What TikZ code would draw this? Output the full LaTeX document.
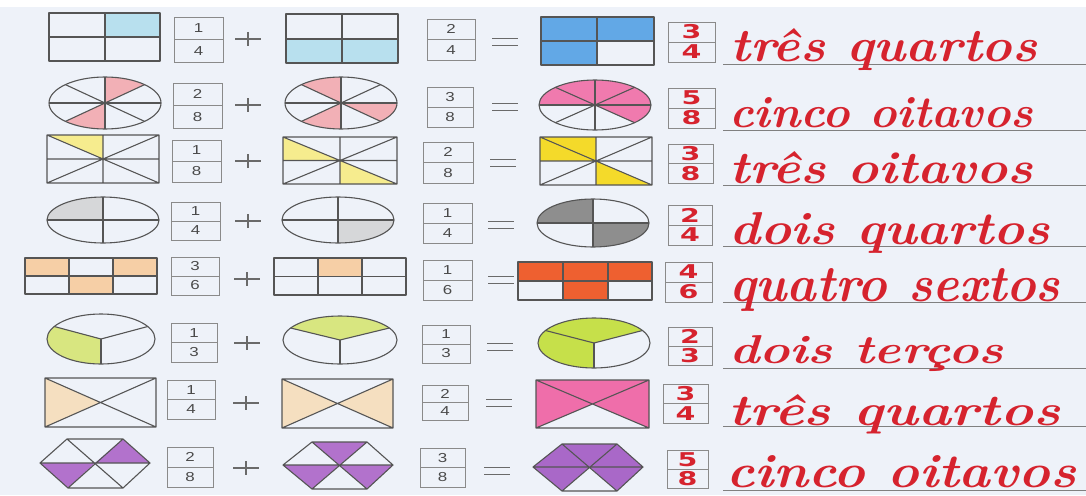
\documentclass[tikz,border=0pt]{standalone}
\usepackage{fontspec}
\usepackage{graphicx}
\newfontfamily\digfont{Liberation Sans}
\newfontfamily\rdigfont{DejaVu Sans}
\definecolor{bgc}{HTML}{EEF2F9}
\definecolor{lc}{HTML}{555555}
\definecolor{bc}{HTML}{8A8A8A}
\definecolor{oc}{HTML}{6A6A6A}
\definecolor{dc}{HTML}{4A4A4A}
\definecolor{redc}{HTML}{D6232E}
\definecolor{ulc}{HTML}{808080}
\definecolor{lblue}{HTML}{B8E0EE}
\definecolor{cblue}{HTML}{62A8E6}
\definecolor{lpink}{HTML}{F2B0B6}
\definecolor{hpink}{HTML}{F07AAE}
\definecolor{lyel}{HTML}{F6EC8E}
\definecolor{byel}{HTML}{F4DA2A}
\definecolor{lgray}{HTML}{D6D7D9}
\definecolor{dgray}{HTML}{8E8E8E}
\definecolor{peach}{HTML}{F6CFA6}
\definecolor{ored}{HTML}{EE6030}
\definecolor{lgreen}{HTML}{D8E680}
\definecolor{bgreen}{HTML}{C6E04A}
\definecolor{lpeach}{HTML}{F5DFC0}
\definecolor{mpink}{HTML}{EF6EAA}
\definecolor{lpurp}{HTML}{B272CC}
\definecolor{mpurp}{HTML}{A968C8}
\tikzset{
  shp/.style={draw=lc, line width=1.1pt, line join=round},
  boxline/.style={draw=bc, line width=0.9pt},
  op/.style={draw=oc, line width=1.5pt},
  pd/.style={font=\digfont\fontsize{13}{13}\selectfont, text=dc, inner sep=0pt, xscale=1.3},
  rd/.style={font=\rdigfont\bfseries\fontsize{19}{19}\selectfont, text=redc, inner sep=0pt, xscale=1.5},
  hw/.style={text=redc, font=\bfseries\itshape, inner sep=0pt, anchor=base west},
  ul/.style={draw=ulc, line width=0.8pt}
}
% fraction box: name, x1, y1, x2, y2, num, den, style
\newcommand\fbx[8]{%
  \draw[boxline] (#2,#3) rectangle (#4,#5);
  \draw[boxline] (#2,{(#3+#5)/2}) -- (#4,{(#3+#5)/2});
  \node[#8] (#1n) at ({(#2+#4)/2},{#3+(#5-#3)/4}) {#6};
  \node[#8] (#1d) at ({(#2+#4)/2},{#3+3*(#5-#3)/4}) {#7};
}
\newcommand\plusop[3]{\coordinate (#1) at (#2,#3);
  \draw[op,shift={(#2,#3)}] (-13,0) -- (13,0) (0,-7) -- (0,7);}
\newcommand\eqop[3]{\coordinate (#1) at (#2,#3);
  \draw[op,shift={(#2,#3)}] (-13,-3.4) -- (13,-3.4) (-13,3.4) -- (13,3.4);}
% ellipse sector: colour, cx, cy, rx, ry, a, b (image angles, ccw)
\newcommand\esect[7]{%
  \fill[#1] (#2,#3) -- ++({#4*cos(-(#6))},{#5*sin(-(#6))})
    arc[start angle={-(#6)}, end angle={-(#7)}, x radius=#4, y radius=#5] -- cycle;}
\newcommand\erad[5]{% cx, cy, rx, ry, image angle
  \draw[shp] (#1,#2) -- ++({#3*cos(-(#5))},{#4*sin(-(#5))});}
\begin{document}
\begin{tikzpicture}[x=1pt,y=-1pt]
\useasboundingbox (0,0) rectangle (1086,495);
\fill[white] (0,0) rectangle (1086,495);
\fill[bgc] (0,7) rectangle (1086,495);

% underlines
\draw[ul] (723,64) -- (1086,64);
\draw[ul] (723,130) -- (1086,130);
\draw[ul] (723,185) -- (1086,185);
\draw[ul] (723,246) -- (1086,246);
\draw[ul] (723,302) -- (1086,302);
\draw[ul] (723,368) -- (1086,368);
\draw[ul] (723,426) -- (1086,426);
\draw[ul] (723,490) -- (1086,490);

%% ROW 1
\fill[lblue] (105,13) rectangle (160,37);
\draw[shp] (49,13) rectangle (160,61) (105,13) -- (105,61) (49,37) -- (160,37);
\fbx{b11}{174}{17}{223}{62}{1}{4}{pd}
\plusop{p1}{248}{39}
\fill[lblue] (286,39) rectangle (398,63);
\draw[shp] (286,14) rectangle (398,63) (342,14) -- (342,63) (286,39) -- (398,39);
\fbx{b12}{427}{19}{475}{60}{2}{4}{pd}
\eqop{e1}{505}{42}
\fill[cblue] (541,17) rectangle (654,41) (541,41) rectangle (597,65);
\draw[shp] (541,17) rectangle (654,65) (597,17) -- (597,65) (541,41) -- (654,41);
\fbx{b13}{668}{22}{715}{62}{3}{4}{rd}
\node[hw] (t1) at (730,62) {\resizebox{307pt}{33pt}{três quartos}};

%% ROW 2
\esect{lpink}{105}{103}{56}{26}{45}{90}
\esect{lpink}{105}{103}{56}{26}{225}{270}
\foreach \a in {0,45,...,315} {\erad{105}{103}{56}{26}{\a}}
\draw[shp] (105,103) ellipse [x radius=56, y radius=26];
\fbx{b21}{173}{83}{222}{128}{2}{8}{pd}
\plusop{p2}{248}{105}
\esect{lpink}{341}{103}{56}{26}{90}{135}
\esect{lpink}{341}{103}{56}{26}{225}{270}
\esect{lpink}{341}{103}{56}{26}{315}{360}
\foreach \a in {0,45,...,315} {\erad{341}{103}{56}{26}{\a}}
\draw[shp] (341,103) ellipse [x radius=56, y radius=26];
\fbx{b22}{427}{87}{473}{127}{3}{8}{pd}
\eqop{e2}{505}{107}
\esect{hpink}{595}{105}{56}{25}{0}{180}
\esect{hpink}{595}{105}{56}{25}{315}{360}
\foreach \a in {0,45,...,315} {\erad{595}{105}{56}{25}{\a}}
\draw[shp] (595,105) ellipse [x radius=56, y radius=25];
\fbx{b23}{668}{88}{715}{128}{5}{8}{rd}
\node[hw] (t2) at (729,127) {\resizebox{304pt}{30pt}{cinco oitavos}};

%% ROW 3
\fill[lyel] (47,135) -- (103,135) -- (103,159) -- cycle;
\draw[shp] (47,135) rectangle (159,183) (103,135) -- (103,183) (47,159) -- (159,159)
  (47,135) -- (159,183) (47,183) -- (159,135);
\fbx{b31}{172}{140}{221}{182}{1}{8}{pd}
\plusop{p3}{248}{161}
\fill[lyel] (283,137) -- (283,160.5) -- (340,160.5) -- cycle;
\fill[lyel] (340,160.5) -- (340,184) -- (397,184) -- cycle;
\draw[shp] (283,137) rectangle (397,184) (340,137) -- (340,184) (283,160.5) -- (397,160.5)
  (283,137) -- (397,184) (283,184) -- (397,137);
\fbx{b32}{423}{142}{473}{183}{2}{8}{pd}
\eqop{e3}{503}{163}
\fill[byel] (540,137) rectangle (596,161);
\fill[byel] (596,161) -- (596,185) -- (652,185) -- cycle;
\draw[shp] (540,137) rectangle (652,185) (596,137) -- (596,185) (540,161) -- (652,161)
  (540,137) -- (652,185) (540,185) -- (652,137);
\fbx{b33}{668}{144}{713}{183}{3}{8}{rd}
\node[hw] (t3) at (729,183) {\resizebox{304pt}{32pt}{três oitavos}};

%% ROW 4
\esect{lgray}{103}{220}{56}{23}{90}{180}
\foreach \a in {0,90,180,270} {\erad{103}{220}{56}{23}{\a}}
\draw[shp] (103,220) ellipse [x radius=56, y radius=23];
\fbx{b41}{171}{202}{220}{240}{1}{4}{pd}
\plusop{p4}{248}{221}
\esect{lgray}{338}{220}{56}{23}{270}{360}
\foreach \a in {0,90,180,270} {\erad{338}{220}{56}{23}{\a}}
\draw[shp] (338,220) ellipse [x radius=56, y radius=23];
\fbx{b42}{423}{203}{472}{243}{1}{4}{pd}
\eqop{e4}{501}{225}
\esect{dgray}{593}{223}{56}{24}{90}{180}
\esect{dgray}{593}{223}{56}{24}{270}{360}
\foreach \a in {0,90,180,270} {\erad{593}{223}{56}{24}{\a}}
\draw[shp] (593,223) ellipse [x radius=56, y radius=24];
\fbx{b43}{668}{205}{712}{245}{2}{4}{rd}
\node[hw] (t4) at (729,244) {\resizebox{321pt}{32pt}{dois quartos}};

%% ROW 5
\fill[peach] (25,258) rectangle (69,276) (113,258) rectangle (157,276) (69,276) rectangle (113,294);
\draw[shp] (25,258) rectangle (157,294) (69,258) -- (69,294) (113,258) -- (113,294) (25,276) -- (157,276);
\fbx{b51}{171}{257}{219}{295}{3}{6}{pd}
\plusop{p5}{247}{279}
\fill[peach] (318,258) rectangle (362,276.5);
\draw[shp] (274,258) rectangle (406,295) (318,258) -- (318,295) (362,258) -- (362,295) (274,276.5) -- (406,276.5);
\fbx{b52}{423}{260}{472}{300}{1}{6}{pd}
\eqop{e5}{501}{280}
\fill[ored] (518,262) rectangle (652,281) (563,281) rectangle (608,300);
\draw[shp] (518,262) rectangle (652,300) (563,262) -- (563,300) (608,262) -- (608,300) (518,281) -- (652,281);
\fbx{b53}{665}{262}{712}{302}{4}{6}{rd}
\node[hw] (t5) at (729,301) {\resizebox{331pt}{33pt}{quatro sextos}};

%% ROW 6
\esect{lgreen}{101}{339}{54}{25}{150}{270}
\foreach \a in {30,150,270} {\erad{101}{339}{54}{25}{\a}}
\draw[shp] (101,339) ellipse [x radius=54, y radius=25];
\fbx{b61}{171}{323}{217}{362}{1}{3}{pd}
\plusop{p6}{247}{343}
\esect{lgreen}{340}{340}{57}{24}{30}{150}
\foreach \a in {30,150,270} {\erad{340}{340}{57}{24}{\a}}
\draw[shp] (340,340) ellipse [x radius=57, y radius=24];
\fbx{b62}{422}{325}{470}{363}{1}{3}{pd}
\eqop{e6}{500}{347}
\esect{bgreen}{594}{343}{56}{25}{30}{270}
\foreach \a in {30,150,270} {\erad{594}{343}{56}{25}{\a}}
\draw[shp] (594,343) ellipse [x radius=56, y radius=25];
\fbx{b63}{668}{327}{712}{365}{2}{3}{rd}
\node[hw] (t6) at (729,363) {\resizebox{274pt}{28pt}{dois terços}};

%% ROW 7
\fill[lpeach] (45,378) -- (45,427) -- (100.5,402.5) -- cycle;
\draw[shp] (45,378) rectangle (156,427) (45,378) -- (156,427) (45,427) -- (156,378);
\fbx{b71}{167}{380}{215}{419}{1}{4}{pd}
\plusop{p7}{246}{403}
\fill[lpeach] (282,379) -- (282,428) -- (337.5,403.5) -- cycle;
\fill[lpeach] (393,379) -- (393,428) -- (337.5,403.5) -- cycle;
\draw[shp] (282,379) rectangle (393,428) (282,379) -- (393,428) (282,428) -- (393,379);
\fbx{b72}{422}{385}{468}{420}{2}{4}{pd}
\eqop{e7}{499}{403}
\fill[mpink] (536,380) -- (649,380) -- (649,428) -- (592.5,404) -- (536,428) -- cycle;
\draw[shp] (536,380) rectangle (649,428) (536,380) -- (649,428) (536,428) -- (649,380);
\fbx{b73}{663}{384}{708}{423}{3}{4}{rd}
\node[hw] (t7) at (728,425) {\resizebox{332pt}{31pt}{três quartos}};

%% ROW 8
\fill[lpurp] (40,463) -- (95,463) -- (68,488) -- cycle;
\fill[lpurp] (95,463) -- (123,439) -- (150,463) -- cycle;
\draw[shp] (40,463) -- (67,439) -- (123,439) -- (150,463) -- (123,488) -- (68,488) -- cycle
  (40,463) -- (150,463) (67,439) -- (123,488) (123,439) -- (68,488);
\fbx{b81}{167}{447}{213}{487}{2}{8}{pd}
\plusop{p8}{246}{468}
\fill[lpurp] (312,442) -- (367,442) -- (339.5,465) -- cycle;
\fill[lpurp] (283,465) -- (339.5,465) -- (312,489) -- cycle;
\fill[lpurp] (339.5,465) -- (393,465) -- (367,489) -- cycle;
\draw[shp] (283,465) -- (312,442) -- (367,442) -- (393,465) -- (367,489) -- (312,489) -- cycle
  (283,465) -- (393,465) (312,442) -- (367,489) (367,442) -- (312,489);
\fbx{b82}{420}{448}{465}{487}{3}{8}{pd}
\eqop{e8}{497}{471}
\fill[mpurp] (533,467) -- (562,444) -- (617,444) -- (643,467) -- (617,491) -- (589.5,467) -- (562,491) -- cycle;
\draw[shp] (533,467) -- (562,444) -- (617,444) -- (643,467) -- (617,491) -- (562,491) -- cycle
  (533,467) -- (643,467) (562,444) -- (617,491) (617,444) -- (562,491);
\fbx{b83}{667}{450}{708}{488}{5}{8}{rd}
\node[hw] (t8) at (726,487) {\resizebox{350pt}{32pt}{cinco oitavos}};
\end{tikzpicture}
\end{document}
